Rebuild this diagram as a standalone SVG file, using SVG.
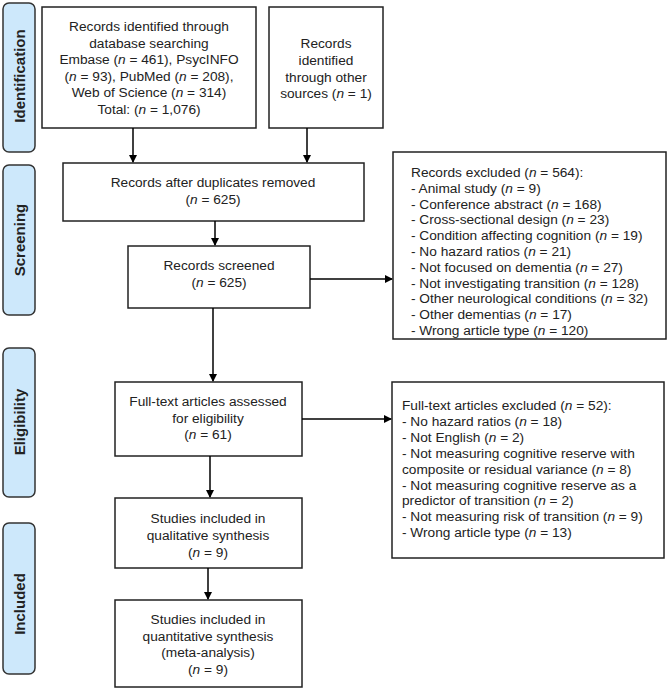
<svg xmlns="http://www.w3.org/2000/svg" width="669" height="690" viewBox="0 0 669 690">
<defs>
<marker id="ah" markerWidth="8" markerHeight="8" refX="7" refY="4" orient="auto" markerUnits="userSpaceOnUse">
<path d="M0,0 L8,4 L0,8 Z" fill="#000"/>
</marker>
<style>
.box{fill:#fff;stroke:#222;stroke-width:1.5}
.side{fill:#cde8fb;stroke:#333;stroke-width:1.5}
.t{font-family:"Liberation Sans",Arial,sans-serif;font-size:13.7px;fill:#222}
.c{text-anchor:middle}
.sl{font-family:"Liberation Sans",Arial,sans-serif;font-size:15px;font-weight:bold;fill:#222;text-anchor:middle}
.ln{stroke:#000;stroke-width:1.5;fill:none}
</style>
</defs>
<rect width="669" height="690" fill="#fff"/>
<g id="phase-identification"><rect class="side" x="3" y="3" width="32" height="149" rx="6"/><text class="sl" transform="translate(25,76) rotate(-90)">Identification</text></g>
<g id="phase-screening"><rect class="side" x="3" y="165" width="32" height="150" rx="6"/><text class="sl" transform="translate(25,240) rotate(-90)">Screening</text></g>
<g id="phase-eligibility"><rect class="side" x="3" y="348" width="32" height="149" rx="6"/><text class="sl" transform="translate(25,422) rotate(-90)">Eligibility</text></g>
<g id="phase-included"><rect class="side" x="3" y="523" width="32" height="151" rx="6"/><text class="sl" transform="translate(25,604) rotate(-90)">Included</text></g>

<g id="db-search"><rect class="box" x="42" y="7" width="214" height="121"/>
<text class="t c" x="149"><tspan x="149" y="31">Records identified through</tspan><tspan x="149" y="47.5">database searching</tspan><tspan x="149" y="64">Embase (<tspan font-style="italic">n</tspan> = 461), PsycINFO</tspan><tspan x="149" y="80.5">(<tspan font-style="italic">n</tspan> = 93), PubMed (<tspan font-style="italic">n</tspan> = 208),</tspan><tspan x="149" y="97">Web of Science (<tspan font-style="italic">n</tspan> = 314)</tspan><tspan x="149" y="113.5">Total: (<tspan font-style="italic">n</tspan> = 1,076)</tspan></text></g>

<g id="other-sources"><rect class="box" x="269" y="7" width="114" height="121"/>
<text class="t c"><tspan x="326" y="48">Records</tspan><tspan x="326" y="64.5">identified</tspan><tspan x="326" y="81.5">through other</tspan><tspan x="326" y="98">sources (<tspan font-style="italic">n</tspan> = 1)</tspan></text></g>

<g id="dedup"><rect class="box" x="63" y="163" width="301" height="58"/>
<text class="t c"><tspan x="213" y="187">Records after duplicates removed</tspan><tspan x="213" y="204">(<tspan font-style="italic">n</tspan> = 625)</tspan></text></g>

<g id="screened"><rect class="box" x="128" y="246" width="182" height="62"/>
<text class="t c"><tspan x="219" y="270">Records screened</tspan><tspan x="219" y="287">(<tspan font-style="italic">n</tspan> = 625)</tspan></text></g>

<g id="records-excluded"><rect class="box" x="393" y="152" width="273" height="187"/>
<text class="t"><tspan x="411" y="177">Records excluded (<tspan font-style="italic">n</tspan> = 564):</tspan><tspan x="411" y="192.8">- Animal study (<tspan font-style="italic">n</tspan> = 9)</tspan><tspan x="411" y="208.6">- Conference abstract (<tspan font-style="italic">n</tspan> = 168)</tspan><tspan x="411" y="224.4">- Cross-sectional design (<tspan font-style="italic">n</tspan> = 23)</tspan><tspan x="411" y="240.2">- Condition affecting cognition (<tspan font-style="italic">n</tspan> = 19)</tspan><tspan x="411" y="256">- No hazard ratios (<tspan font-style="italic">n</tspan> = 21)</tspan><tspan x="411" y="271.8">- Not focused on dementia (<tspan font-style="italic">n</tspan> = 27)</tspan><tspan x="411" y="287.6">- Not investigating transition (<tspan font-style="italic">n</tspan> = 128)</tspan><tspan x="411" y="303.4">- Other neurological conditions (<tspan font-style="italic">n</tspan> = 32)</tspan><tspan x="411" y="319.2">- Other dementias (<tspan font-style="italic">n</tspan> = 17)</tspan><tspan x="411" y="335">- Wrong article type (<tspan font-style="italic">n</tspan> = 120)</tspan></text></g>

<g id="fulltext"><rect class="box" x="115" y="382" width="187" height="74"/>
<text class="t c"><tspan x="208" y="406">Full-text articles assessed</tspan><tspan x="208" y="422.5">for eligibility</tspan><tspan x="208" y="439">(<tspan font-style="italic">n</tspan> = 61)</tspan></text></g>

<g id="fulltext-excluded"><rect class="box" x="392" y="382" width="272" height="176"/>
<text class="t"><tspan x="402" y="410">Full-text articles excluded (<tspan font-style="italic">n</tspan> = 52):</tspan><tspan x="402" y="425.9">- No hazard ratios (<tspan font-style="italic">n</tspan> = 18)</tspan><tspan x="402" y="441.8">- Not English (<tspan font-style="italic">n</tspan> = 2)</tspan><tspan x="402" y="457.7">- Not measuring cognitive reserve with</tspan><tspan x="402" y="473.6">composite or residual variance (<tspan font-style="italic">n</tspan> = 8)</tspan><tspan x="402" y="489.5">- Not measuring cognitive reserve as a</tspan><tspan x="402" y="505.4">predictor of transition (<tspan font-style="italic">n</tspan> = 2)</tspan><tspan x="402" y="521.3">- Not measuring risk of transition (<tspan font-style="italic">n</tspan> = 9)</tspan><tspan x="402" y="537.2">- Wrong article type (<tspan font-style="italic">n</tspan> = 13)</tspan></text></g>

<g id="qualitative"><rect class="box" x="115" y="498" width="187" height="70"/>
<text class="t c"><tspan x="208" y="523">Studies included in</tspan><tspan x="208" y="539.5">qualitative synthesis</tspan><tspan x="208" y="556.5">(<tspan font-style="italic">n</tspan> = 9)</tspan></text></g>

<g id="quantitative"><rect class="box" x="115" y="600" width="187" height="87"/>
<text class="t c"><tspan x="208" y="624">Studies included in</tspan><tspan x="208" y="640.5">quantitative synthesis</tspan><tspan x="208" y="657">(meta-analysis)</tspan><tspan x="208" y="673.5">(<tspan font-style="italic">n</tspan> = 9)</tspan></text></g>

<g id="connectors">
<line class="ln" x1="133" y1="128" x2="133" y2="162" marker-end="url(#ah)"/>
<line class="ln" x1="307" y1="128" x2="307" y2="162" marker-end="url(#ah)"/>
<line class="ln" x1="215" y1="221" x2="215" y2="245" marker-end="url(#ah)"/>
<line class="ln" x1="310" y1="279" x2="392" y2="279" marker-end="url(#ah)"/>
<line class="ln" x1="213" y1="308" x2="213" y2="381" marker-end="url(#ah)"/>
<line class="ln" x1="302" y1="419" x2="391" y2="419" marker-end="url(#ah)"/>
<line class="ln" x1="210" y1="456" x2="210" y2="497" marker-end="url(#ah)"/>
<line class="ln" x1="208" y1="568" x2="208" y2="599" marker-end="url(#ah)"/>
</g>
</svg>
